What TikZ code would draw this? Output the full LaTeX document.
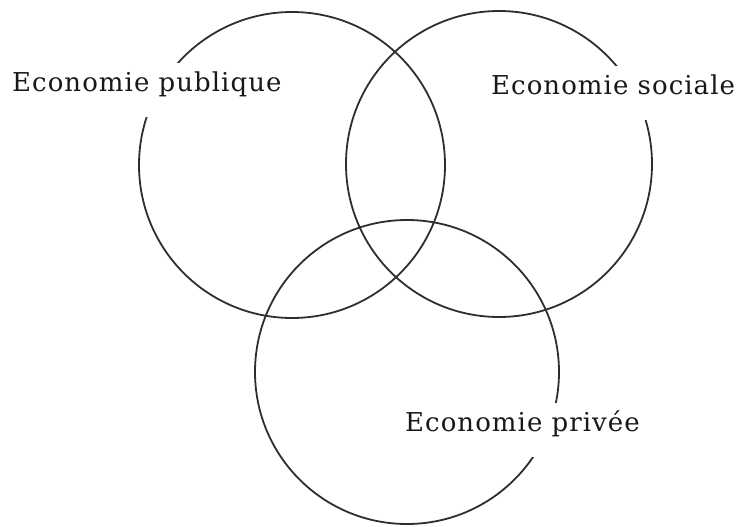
\documentclass[tikz,border=0pt]{standalone}
\usepackage{fontspec}
\setmainfont{DejaVu Serif}[LetterSpace=4]
\begin{document}
\begin{tikzpicture}[x=1pt,y=-1pt,
  ring/.style={draw=black!82,line width=1.8pt},
  lab/.style={fill=white,inner xsep=8pt,inner ysep=14pt,
    text height=14pt,text depth=12pt,anchor=base west,
    text=black!90,font=\fontsize{26}{28}\selectfont}]
\useasboundingbox (0,0) rectangle (736,527);
% the three spheres of the economy
\coordinate (pub) at (292,165);
\coordinate (soc) at (499,164);
\coordinate (pri) at (407,372);
\draw[ring] (pub) circle (153);
\draw[ring] (soc) circle (153);
\draw[ring] (pri) circle (152);
% labels on white patches that interrupt the rings
\node[lab] (lpub) at (4,91) {Economie publique};
\node[lab] (lsoc) at (483,94) {Economie sociale};
\node[lab] (lpri) at (397,431) {Economie privée};
\end{tikzpicture}
\end{document}
